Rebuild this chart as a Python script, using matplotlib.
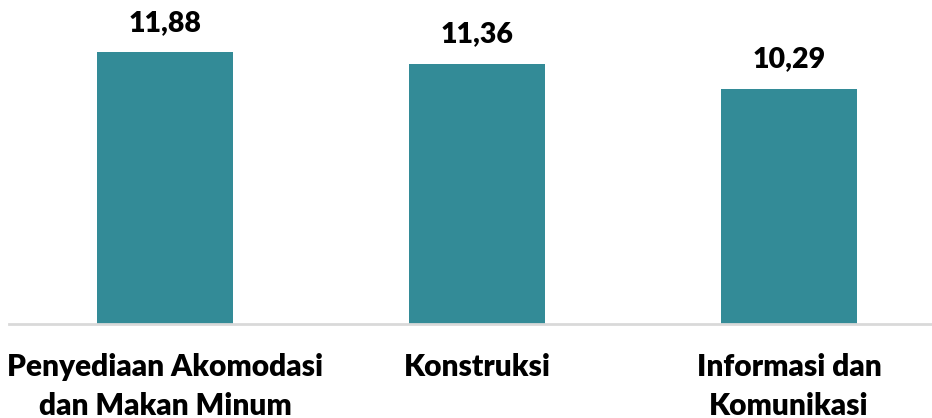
import matplotlib
matplotlib.use('Agg')
import matplotlib.pyplot as plt

# data
categories = ['Penyediaan Akomodasi\ndan Makan Minum', 'Konstruksi', 'Informasi dan\nKomunikasi']
values = [11.88, 11.36, 10.29]
value_labels = ['11,88', '11,36', '10,29']

plt.rcParams['font.family'] = ['Lato', 'DejaVu Sans']

fig = plt.figure(figsize=(9.32, 4.18), dpi=100)
# axes spans the whole width, baseline at y=324 px
ax = fig.add_axes([0, (418 - 324) / 418, 1, 324 / 418])

x = list(range(len(categories)))
ax.bar(x, values, width=0.436, color='#338b97', zorder=2)

ax.set_xlim(-0.529, 2.458)
ax.set_ylim(0, 14.17)

# baseline
ax.plot([-0.5, 2.6], [0, 0], color='#d9d9d9', linewidth=2, zorder=3, clip_on=False)

for xi, v, lab in zip(x, values, value_labels):
    ax.annotate(lab, (xi, v), xytext=(0, 12), textcoords='offset points',
                ha='center', va='bottom', fontsize=20.5, fontweight='heavy')

ax.set_xticks(x)
ax.set_xticklabels(categories, fontsize=21.5, fontweight='heavy', linespacing=1.45)
ax.tick_params(axis='x', length=0, pad=21)
ax.set_yticks([])
for s in ax.spines.values():
    s.set_visible(False)

fig.savefig('out.png', dpi=100)
